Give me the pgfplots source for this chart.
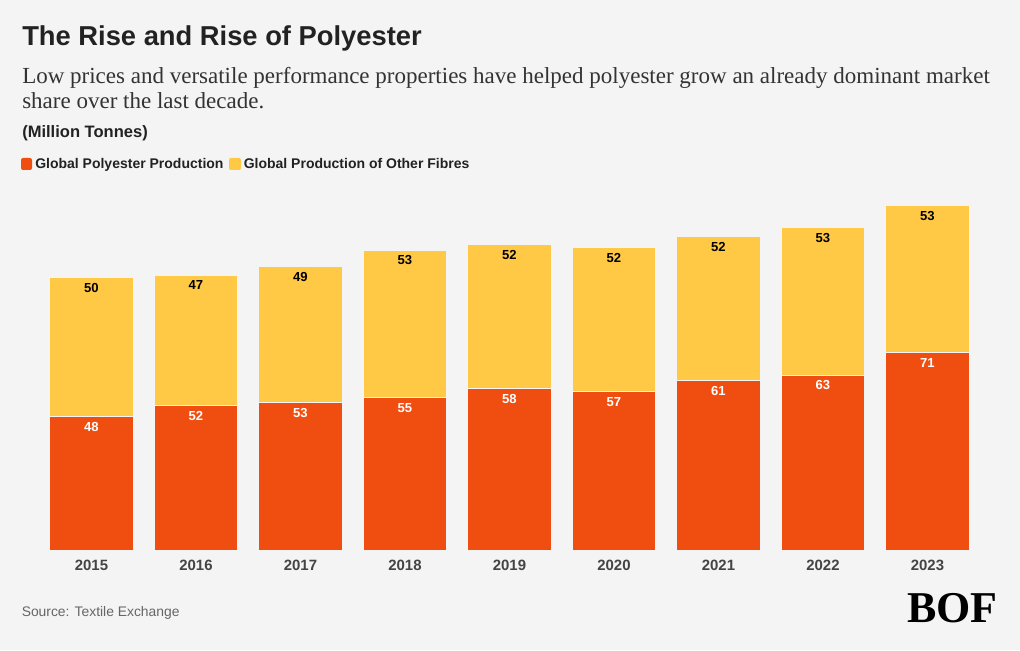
\documentclass[border=0pt]{standalone}
\usepackage{fontspec}
\setmainfont{Liberation Sans}
\newfontfamily\seriffont{Liberation Serif}
\usepackage{pgfplots}
\pgfplotsset{compat=1.18}
\definecolor{bg}{HTML}{F4F4F4}
\definecolor{poly}{HTML}{F04E11}
\definecolor{other}{HTML}{FFC845}
\definecolor{titlec}{HTML}{222222}
\definecolor{subc}{HTML}{333333}
\definecolor{tickc}{HTML}{444444}
\definecolor{srcc}{HTML}{666666}
\pgfplotsset{
  common/.style={
    at={(29.4375pt,75pt)}, anchor=south west, scale only axis,
    width=705.375pt, height=270.75pt,
    xmin=-0.5, xmax=8.5, ymin=0, ymax=130,
    axis line style={draw=none}, ytick=\empty,
    major tick length=0, clip=false,
  }
}
\begin{document}
\begin{tikzpicture}[x=0.75pt,y=0.75pt]
\fill[bg] (0,0) rectangle (1020,650);
\node[anchor=base west, inner sep=0, font=\fontsize{20.5}{24}\selectfont\bfseries, text=titlec] at (22,604.3) {The Rise and Rise of Polyester};
\node[anchor=base west, inner sep=0, font=\seriffont\fontsize{17.25}{20}\selectfont, text=subc] at (22,566.7) {Low prices and versatile performance properties have helped polyester grow an already dominant market};
\node[anchor=base west, inner sep=0, font=\seriffont\fontsize{17.25}{20}\selectfont, text=subc] at (22,541.7) {share over the last decade.};
\node[anchor=base west, inner sep=0, font=\fontsize{12.4}{15}\selectfont\bfseries, text=titlec] at (22,512.3) {(Million Tonnes)};
\fill[poly, rounded corners=1.5pt] (21,480) rectangle (32,492);
\node[anchor=base west, inner sep=0, font=\fontsize{10.5}{13}\selectfont\bfseries, text=titlec] at (35,481.7) {Global Polyester Production};
\fill[other, rounded corners=1.5pt] (229,480) rectangle (241,492);
\node[anchor=base west, inner sep=0, font=\fontsize{10.5}{13}\selectfont\bfseries, text=titlec] at (243.5,481.7) {Global Production of Other Fibres};
\node[anchor=base west, inner sep=0, font=\fontsize{10.4}{13}\selectfont, text=srcc] at (21.5,34) {Source: Textile Exchange};
\node[anchor=base, inner sep=0, font=\seriffont\fontsize{33}{36}\selectfont\bfseries, text=black] at (952.5,27.3) {BOF};
\begin{axis}[common,
  ybar stacked, bar width=0.795,
  xtick={0,...,8}, xticklabels={2015,2016,2017,2018,2019,2020,2021,2022,2023},
  xticklabel style={font=\fontsize{11.2}{13}\selectfont\bfseries, text=tickc, anchor=center, yshift=-11.25pt},
]
\addplot[fill=poly, draw=bg, line width=0.75pt] coordinates {
(0,48) (1,52) (2,53) (3,55) (4,58) (5,57) (6,61) (7,63) (8,71)};
\addplot[fill=other, draw=bg, line width=0.75pt] coordinates {
(0,50) (1,47) (2,49) (3,53) (4,52) (5,52) (6,52) (7,53) (8,53)};
\end{axis}
\begin{axis}[common, xtick=\empty,
  point meta=explicit symbolic,
  nodes near coords,
  every node near coord/.append style={font=\fontsize{9.8}{11}\selectfont\bfseries, anchor=center, yshift=-7.8pt, inner sep=0},
]
% label positions: top of each segment (polyester value; polyester + other)
\addplot[draw=none, mark=none, every node near coord/.append style={text=white}] coordinates {
(0,48) [48] (1,52) [52] (2,53) [53] (3,55) [55] (4,58) [58] (5,57) [57] (6,61) [61] (7,63) [63] (8,71) [71]};
\addplot[draw=none, mark=none, every node near coord/.append style={text=black}] coordinates {
(0,98) [50] (1,99) [47] (2,102) [49] (3,108) [53] (4,110) [52] (5,109) [52] (6,113) [52] (7,116) [53] (8,124) [53]};
\end{axis}
\end{tikzpicture}
\end{document}
